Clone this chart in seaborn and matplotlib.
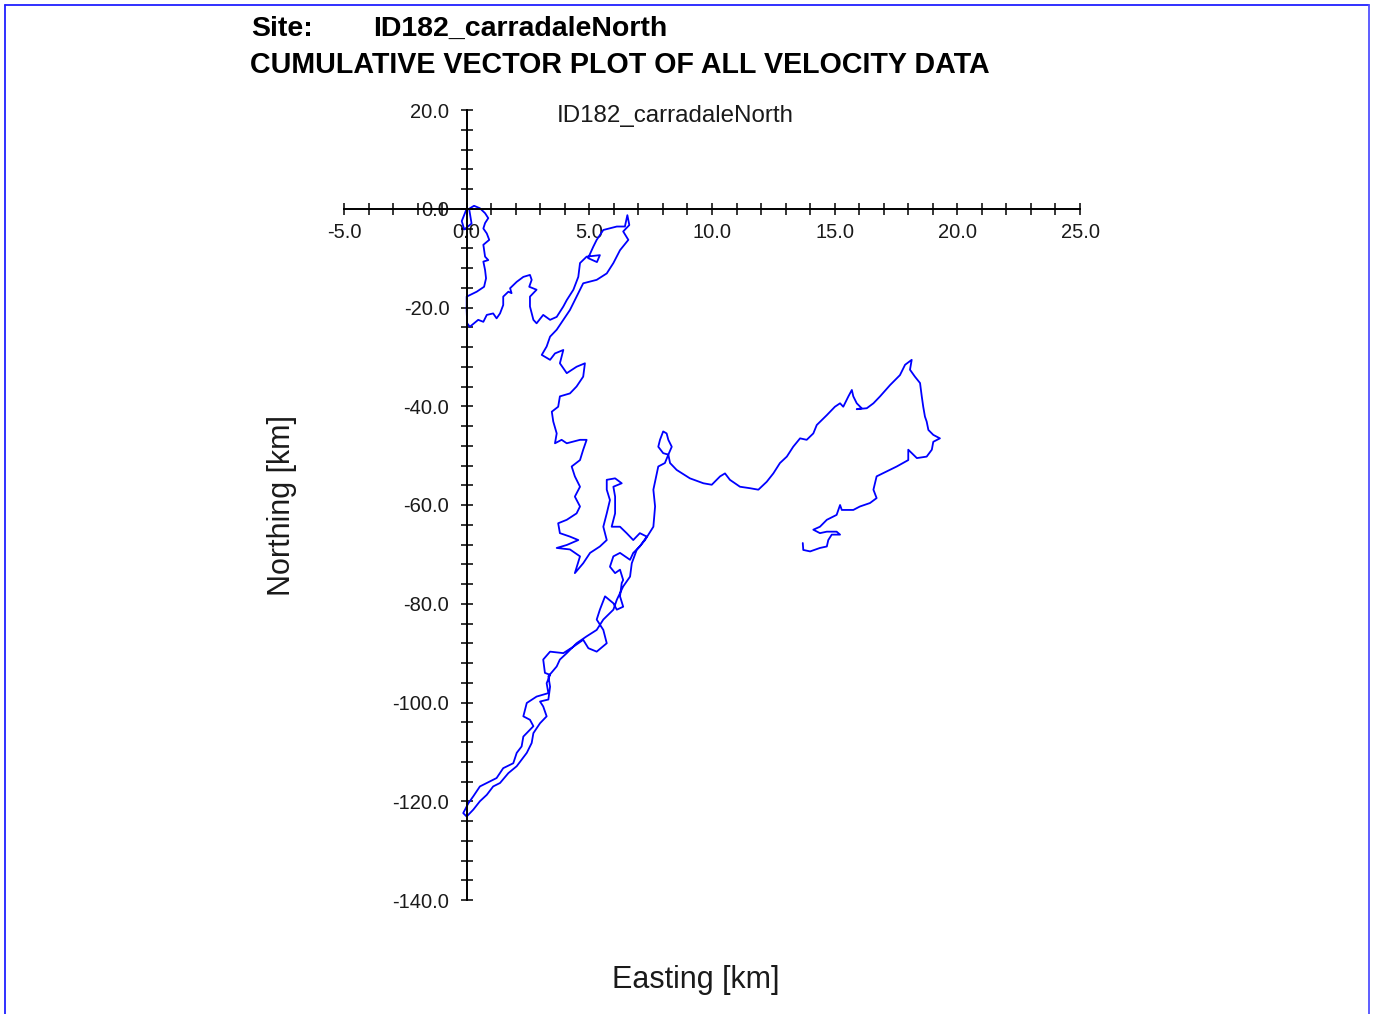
import numpy as np
import pandas as pd
import matplotlib
matplotlib.use("Agg")
import matplotlib.pyplot as plt
from matplotlib.lines import Line2D
from matplotlib.ticker import MultipleLocator, FormatStrFormatter
import seaborn as sns

# ---------------- data (cumulative displacement, km) ----------------
seg_a_east = [0.00, -0.20, -0.10, 0.20, 0.10, 0.30, 0.54, 0.75, 0.88, 0.75, 0.68, 0.82, 0.92, 0.68, 0.75,
              0.88, 0.68, 0.75, 0.79, 0.71, 0.41, 0.13, 0.00, 0.00, 0.02, 0.13, 0.47, 0.68, 0.82, 1.08,
              1.22, 1.36, 1.49, 1.49, 1.70, 1.83, 1.77, 2.04, 2.31, 2.58, 2.65, 2.55, 2.85, 2.58, 2.58,
              2.72, 2.85, 3.12, 3.40, 3.67]
seg_a_north = [0.0, -2.5, -4.2, -3.0, 0.0, 0.6, 0.1, -0.9, -1.9, -2.9, -4.0, -5.0, -6.3, -7.3, -9.7,
               -10.4, -10.7, -12.4, -14.1, -15.8, -16.8, -17.5, -17.8, -20.5, -23.2, -23.9, -22.5, -22.9, -21.5, -21.2,
               -22.2, -21.2, -19.5, -17.8, -16.8, -17.1, -16.1, -14.8, -13.8, -13.4, -14.4, -15.8, -16.4, -17.8, -19.8,
               -22.5, -23.2, -21.5, -22.5, -21.9]

seg_b_east = [3.94, 4.08, 4.35, 4.55, 4.62, 4.89, 5.43, 5.31, 4.95, 5.16, 5.30, 5.57, 6.12, 6.45, 6.55,
              6.63, 6.38, 6.59, 6.25, 5.98, 5.71, 5.30, 4.75, 4.48, 4.21, 3.94, 3.67, 3.40, 3.26]
seg_b_north = [-19.8, -18.5, -16.4, -13.8, -11.0, -9.7, -9.4, -10.8, -10.0, -7.7, -6.3, -4.3, -3.6, -3.6, -1.3,
               -3.3, -4.6, -6.3, -8.4, -11.0, -13.1, -14.4, -15.1, -17.8, -20.5, -22.5, -24.5, -25.9, -27.9]

seg_c_east = [3.06, 3.40, 3.60, 3.94, 3.80, 4.08, 4.48, 4.82, 4.75, 4.48, 4.21, 3.80, 3.73, 3.47, 3.53,
              3.67, 3.60, 3.87, 4.08, 4.62, 4.89, 4.75, 4.62, 4.28, 4.41, 4.62, 4.41, 4.62, 4.48, 4.08,
              3.73, 3.80, 4.21, 4.55, 4.08, 3.67, 4.21, 4.62, 4.41]
seg_c_north = [-29.6, -30.6, -29.3, -28.6, -31.3, -33.3, -32.0, -31.3, -34.0, -36.0, -37.4, -38.0, -40.1, -41.1, -43.1,
               -45.5, -47.5, -46.8, -47.5, -46.8, -46.8, -48.8, -50.9, -52.2, -54.2, -56.3, -58.3, -60.3, -61.7, -63.0,
               -63.7, -65.7, -66.4, -67.1, -68.1, -68.7, -69.0, -70.4, -73.8]

seg_d_east = [4.75, 5.03, 5.43, 5.71, 5.57, 5.71, 5.84, 5.71, 5.71, 6.05, 6.32, 5.98, 6.05, 6.05, 5.91,
              6.25, 6.52, 6.79, 7.06, 7.34, 7.06, 6.79, 6.66, 6.25, 5.98, 5.84, 6.05, 6.25, 6.38]
seg_d_north = [-71.8, -69.7, -68.4, -67.1, -64.4, -61.7, -59.0, -56.9, -54.9, -54.6, -55.6, -56.3, -58.3, -61.7, -64.4,
               -64.4, -65.7, -67.1, -65.7, -66.4, -68.4, -69.7, -71.1, -69.7, -70.4, -72.5, -73.8, -73.1, -75.2]

seg_e_east = [6.32, 6.25, 6.38, 6.12, 5.98, 5.64, 5.43, 5.30, 5.57, 5.71, 5.30, 4.96, 4.75, 4.35, 3.94,
              3.40, 3.12, 3.19, 3.40, 3.26, 3.33, 2.85, 2.45, 2.31, 2.58, 2.72, 2.31, 2.24, 2.04, 1.90,
              1.49, 1.22, 0.82, 0.54, 0.27, 0.07, -0.14, 0.00, 0.27, 0.54, 0.82, 1.08, 1.36, 1.70, 2.04,
              2.45, 2.65, 2.72, 2.99, 3.26, 3.12, 2.99, 3.33, 3.40, 3.33, 3.67, 3.80, 4.08, 4.48, 4.89,
              5.30, 5.57, 5.98, 6.12, 6.38, 6.66, 6.73, 6.93, 7.27, 7.61]
seg_e_north = [-75.8, -78.5, -80.6, -81.2, -79.9, -78.5, -81.2, -83.2, -85.3, -88.0, -89.7, -89.0, -87.3, -88.7, -90.0,
               -89.7, -91.3, -94.0, -94.4, -96.1, -98.1, -98.8, -100.1, -102.8, -103.5, -104.8, -106.9, -108.9, -110.2, -112.3,
               -113.3, -115.3, -116.3, -117.0, -119.0, -120.4, -122.4, -123.1, -121.7, -120.0, -118.7, -117.0, -116.3, -114.3, -112.9,
               -110.2, -108.2, -106.2, -104.2, -102.8, -100.8, -99.8, -99.4, -96.8, -94.7, -92.7, -91.3, -90.0, -88.0, -86.6,
               -85.3, -83.2, -81.2, -79.2, -76.5, -74.5, -71.8, -69.1, -67.1, -64.4]

seg_f_east = [7.68, 7.61, 7.75, 7.81, 8.08, 8.22, 8.01, 7.81, 7.88, 8.01, 8.15, 8.22, 8.36, 8.22, 8.29,
              8.56, 9.10, 9.65, 9.99, 10.33, 10.53, 10.73, 11.14, 11.55, 11.89, 12.23, 12.50, 12.77, 13.05, 13.31,
              13.59, 13.86, 14.13, 14.27, 14.68, 15.01, 15.22, 15.35, 15.56, 15.70, 15.76, 15.90, 16.10, 15.90, 16.31,
              16.58, 16.85, 17.26, 17.66, 17.87, 18.14, 18.07, 18.27, 18.48, 18.55, 18.61, 18.68, 18.75, 18.82, 19.02,
              19.29, 19.02, 18.96, 18.75, 18.35, 18.00, 18.00, 17.53, 17.12, 16.71, 16.58, 16.71, 16.44, 16.03, 15.76,
              15.29, 15.22, 15.08, 14.68, 14.40, 14.13, 14.40, 14.68, 15.08, 15.22, 14.88, 14.74, 14.68, 14.40, 14.00,
              13.72, 13.70]
seg_f_north = [-60.3, -56.9, -53.6, -52.2, -51.5, -49.8, -49.5, -48.2, -46.8, -45.1, -45.5, -46.8, -48.2, -49.8, -51.5,
               -52.9, -54.6, -55.6, -55.9, -54.2, -53.6, -54.9, -56.3, -56.6, -56.9, -55.3, -53.6, -51.5, -50.2, -48.2,
               -46.5, -46.8, -45.5, -43.8, -41.8, -40.1, -39.4, -40.1, -38.0, -36.7, -38.0, -39.4, -40.4, -40.6, -40.4,
               -39.4, -38.0, -35.7, -33.7, -31.6, -30.6, -32.6, -34.0, -35.3, -38.0, -40.1, -42.1, -43.1, -44.8, -45.8,
               -46.5, -47.2, -48.8, -50.2, -50.5, -48.8, -50.9, -52.2, -53.2, -54.2, -56.9, -58.6, -59.6, -60.3, -61.0,
               -61.0, -60.0, -62.0, -63.0, -64.4, -65.0, -65.7, -65.4, -65.4, -66.0, -66.0, -67.1, -68.4, -68.7, -69.4,
               -69.1, -67.7]

site_name = "ID182_carradaleNorth"
title_line = "CUMULATIVE VECTOR PLOT OF ALL VELOCITY DATA"
x_label = "Easting [km]"
y_label = "Northing [km]"

east = seg_a_east + seg_b_east + seg_c_east + seg_d_east + seg_e_east + seg_f_east
north = seg_a_north + seg_b_north + seg_c_north + seg_d_north + seg_e_north + seg_f_north
df = pd.DataFrame({"east": east, "north": north, "step": np.arange(len(east))})

# ---------------- style ----------------
sns.set_theme(style="white")
plt.rcParams["font.family"] = ["Liberation Sans", "DejaVu Sans"]

W, H = 1378, 1014
fig = plt.figure(figsize=(W / 100, H / 100), dpi=100)
fig.patch.set_facecolor("white")
ax = fig.add_axes([344 / W, 1 - 900 / H, 736 / W, 790 / H])
ax.set_facecolor("white")

sns.lineplot(data=df, x="east", y="north", sort=False, estimator=None,
             color="#0000FF", linewidth=1.3, ax=ax)

ax.set_xlim(-5, 25)
ax.set_ylim(-140, 20)
ax.spines["left"].set_position(("data", 0))
ax.spines["bottom"].set_position(("data", 0))
ax.spines["top"].set_visible(False)
ax.spines["right"].set_visible(False)
for s in ("left", "bottom"):
    ax.spines[s].set_color("black")
    ax.spines[s].set_linewidth(1.4)

ax.xaxis.set_major_locator(MultipleLocator(5))
ax.xaxis.set_minor_locator(MultipleLocator(1))
ax.yaxis.set_major_locator(MultipleLocator(20))
ax.yaxis.set_minor_locator(MultipleLocator(4))
ax.xaxis.set_major_formatter(FormatStrFormatter("%.1f"))
ax.yaxis.set_major_formatter(FormatStrFormatter("%.1f"))
ax.tick_params(which="both", direction="inout", color="black", width=1.1,
               bottom=True, left=True, top=False, right=False)
ax.tick_params(which="major", length=9, labelsize=14.5, labelcolor="#1a1a1a")
ax.tick_params(axis="x", which="major", pad=6)
ax.tick_params(axis="y", which="major", pad=8)
ax.tick_params(which="minor", length=8)
ax.set_xlabel("")
ax.set_ylabel("")
ax.grid(False)

# ---------------- texts ----------------
fig.text(251 / W, 1 - 29 / H, "Site:", fontsize=20.5, fontweight="bold", va="center", ha="left", color="black")
fig.text(373 / W, 1 - 29 / H, site_name, fontsize=20.5, fontweight="bold", va="center", ha="left", color="black")
fig.text(250 / W, 1 - 65 / H, title_line, fontsize=20.6, fontweight="bold", va="center", ha="left", color="black")
fig.text(557 / W, 1 - 116 / H, site_name, fontsize=17.4, va="center", ha="left", color="#1a1a1a")
fig.text(696 / W, 1 - 980 / H, x_label, fontsize=22, va="center", ha="center", color="#1a1a1a")
fig.text(282 / W, 1 - 506 / H, y_label, fontsize=22, va="center", ha="center",
         rotation=90, color="#1a1a1a")

# ---------------- page frame ----------------
bc = "#2020FF"
fig.add_artist(Line2D([4.5 / W, 4.5 / W], [0, 1 - 4.5 / H], transform=fig.transFigure, color=bc, lw=1.3))
fig.add_artist(Line2D([4.5 / W, 1368.5 / W], [1 - 4.5 / H, 1 - 4.5 / H], transform=fig.transFigure, color=bc, lw=1.3))
fig.add_artist(Line2D([1368.5 / W, 1368.5 / W], [0, 1 - 4.5 / H], transform=fig.transFigure, color="#5050FF", lw=1.3))

fig.savefig("out.png", dpi=100, facecolor="white")
